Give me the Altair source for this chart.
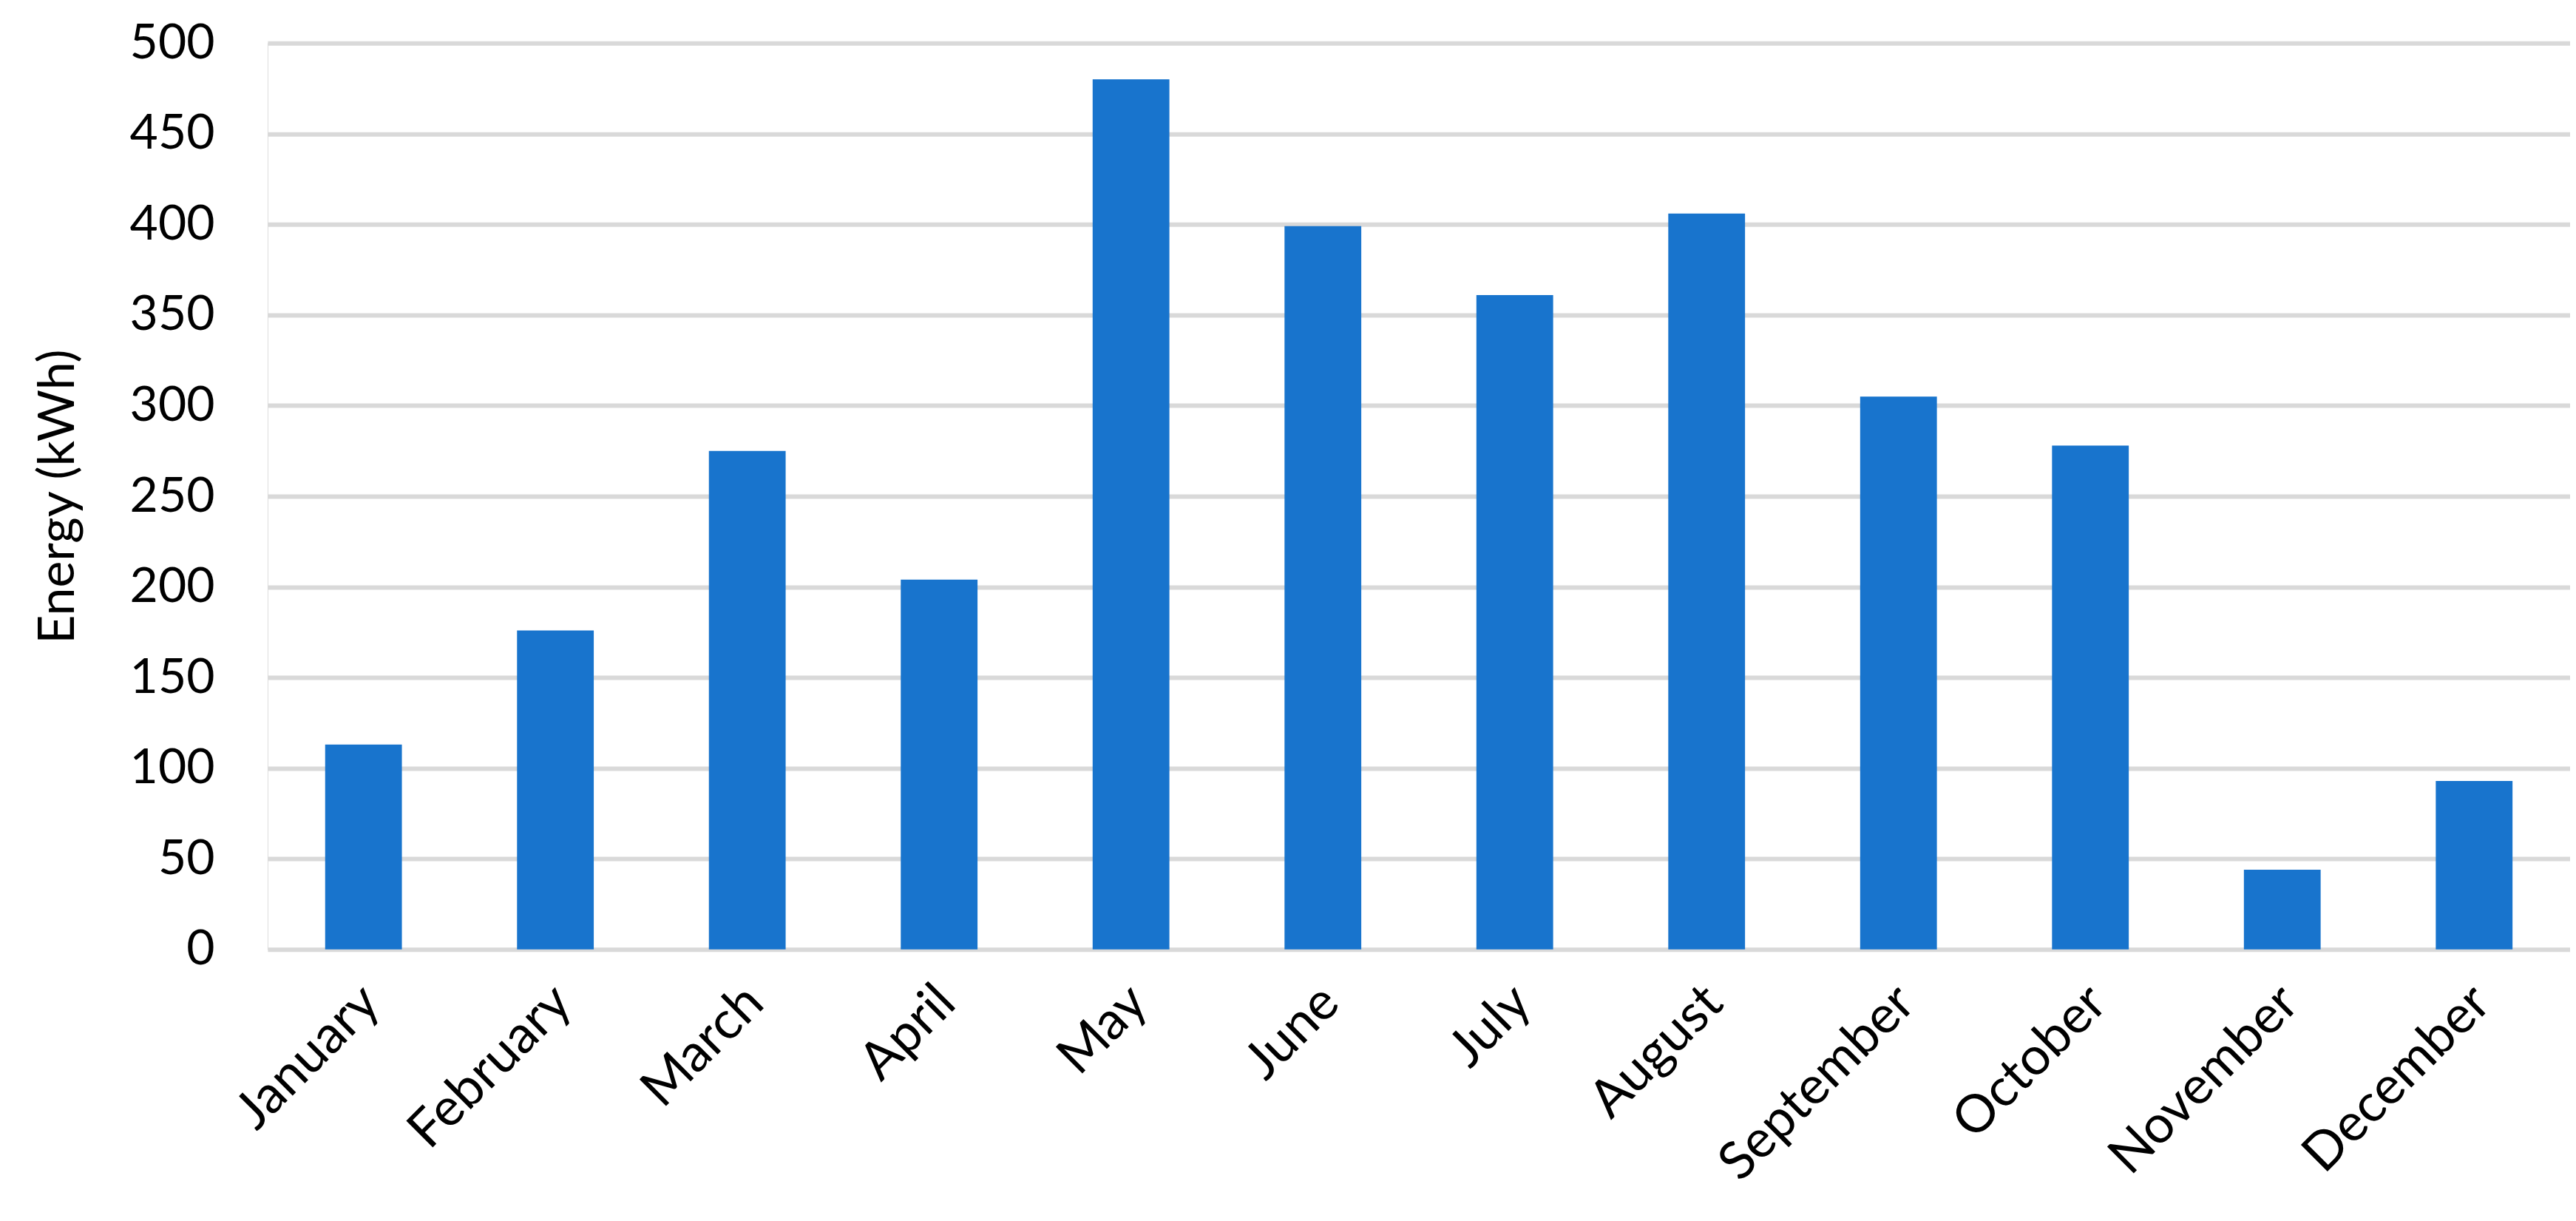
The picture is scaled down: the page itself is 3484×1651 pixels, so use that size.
import altair as alt
import pandas as pd

months = ["January", "February", "March", "April", "May", "June",
          "July", "August", "September", "October", "November", "December"]
energy = [113, 176, 275, 204, 480, 399, 361, 406, 305, 278, 44, 93]
y_ticks = [0, 50, 100, 150, 200, 250, 300, 350, 400, 450, 500]

df = pd.DataFrame({"Month": months, "Energy": energy})

FONT = "Lato"

chart = alt.Chart(df).mark_bar(color="#1874CD").encode(
    x=alt.X("Month:N", sort=months,
            scale=alt.Scale(paddingInner=0.6, paddingOuter=0.3),
            axis=alt.Axis(title=None, labelAngle=-45, labelFontSize=71,
                          labelFont=FONT, labelColor="black",
                          labelPadding=36, labelOffset=-14, labelLimit=0,
                          labelOverlap=False,
                          ticks=False, tickSize=0, domain=False, grid=False)),
    y=alt.Y("Energy:Q", scale=alt.Scale(domain=[0, 500], nice=False),
            axis=alt.Axis(title="Energy (kWh)", values=y_ticks,
                          titleFontSize=68, titleFont=FONT,
                          titleFontWeight="normal", titleColor="black",
                          titlePadding=62,
                          labelFontSize=66, labelFont=FONT, labelColor="black",
                          labelPadding=72, ticks=False, tickSize=0,
                          domain=False, grid=True, gridColor="#D9D9D9",
                          gridWidth=6)),
).properties(
    width=3115, height=1226,
    autosize=alt.AutoSizeParams(type="none"),
    padding={"left": 354, "top": 50, "right": 0, "bottom": 360},
).configure_view(stroke=None).configure(background="white")

chart.save("out.html", embed_options={"renderer": "svg", "actions": False})
